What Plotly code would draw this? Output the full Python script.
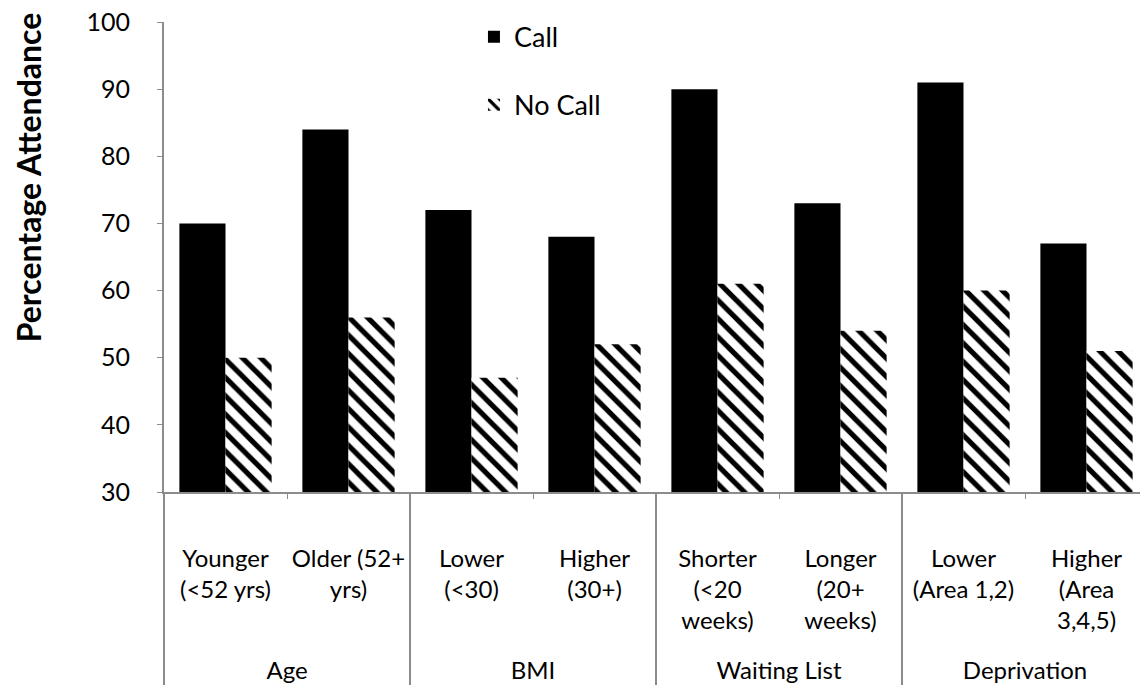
import plotly.graph_objects as go

groups = ["Age", "Age", "BMI", "BMI", "Waiting List", "Waiting List", "Deprivation", "Deprivation"]
subcats = ["Younger<br>(&lt;52 yrs)", "Older (52+<br>yrs)", "Lower<br>(&lt;30)", "Higher<br>(30+)",
           "Shorter<br>(&lt;20<br>weeks)", "Longer<br>(20+<br>weeks)", "Lower<br>(Area 1,2)", "Higher<br>(Area<br>3,4,5)"]
call = [70, 84, 72, 68, 90, 73, 91, 67]
no_call = [50, 56, 47, 52, 61, 54, 60, 51]
y_ticks = [30, 40, 50, 60, 70, 80, 90, 100]

FONT = "Lato, 'Open Sans', sans-serif"

group_labels = [" <br> <br>" + g for g in groups]

fig = go.Figure()
fig.add_trace(go.Bar(x=[group_labels, subcats], y=call, name="Call", legendgroup="a",
                     marker=dict(color="black", line=dict(width=0))))
fig.add_trace(go.Bar(x=[group_labels, subcats], y=no_call, name="No Call", legendgroup="b",
                     marker=dict(color="white", line=dict(width=0),
                                 pattern=dict(shape="\\", fgcolor="black", bgcolor="white",
                                              size=13, solidity=0.4, fillmode="replace"))))

fig.update_layout(
    width=1140, height=689,
    margin=dict(l=156, r=0, t=14, b=205, autoexpand=False),
    paper_bgcolor="white", plot_bgcolor="white",
    barmode="group", bargap=0.25, bargroupgap=0,
    font=dict(family=FONT, size=24, color="black"),
    legend=dict(x=0.315, y=1.02, xanchor="left", yanchor="top", tracegroupgap=30,
                font=dict(size=27), bgcolor="rgba(0,0,0,0)", itemwidth=30),
    showlegend=True,
    annotations=[dict(text="<b>Percentage Attendance</b>", textangle=-90,
                      xref="paper", yref="paper", x=-0.138, y=0.67,
                      xanchor="center", yanchor="middle", showarrow=False,
                      font=dict(size=32))],
)
fig.update_yaxes(range=[30, 100], tickvals=y_ticks, showgrid=False, showline=True, linecolor="#8c8c8c",
                 linewidth=2, ticks="outside", ticklen=5, tickcolor="#8c8c8c",
                 tickfont=dict(size=25), ticklabelstandoff=22, zeroline=False,
                 ticklabeloverflow="allow", automargin=False)
fig.update_xaxes(showgrid=False, showline=True, linecolor="#8c8c8c", linewidth=2,
                 showdividers=True, dividercolor="#8c8c8c", dividerwidth=2,
                 ticks="outside", tickcolor="#8c8c8c", tickfont=dict(size=24),
                 tickangle=0, ticklabelstandoff=44, automargin=False)

fig.write_html("out.html")
